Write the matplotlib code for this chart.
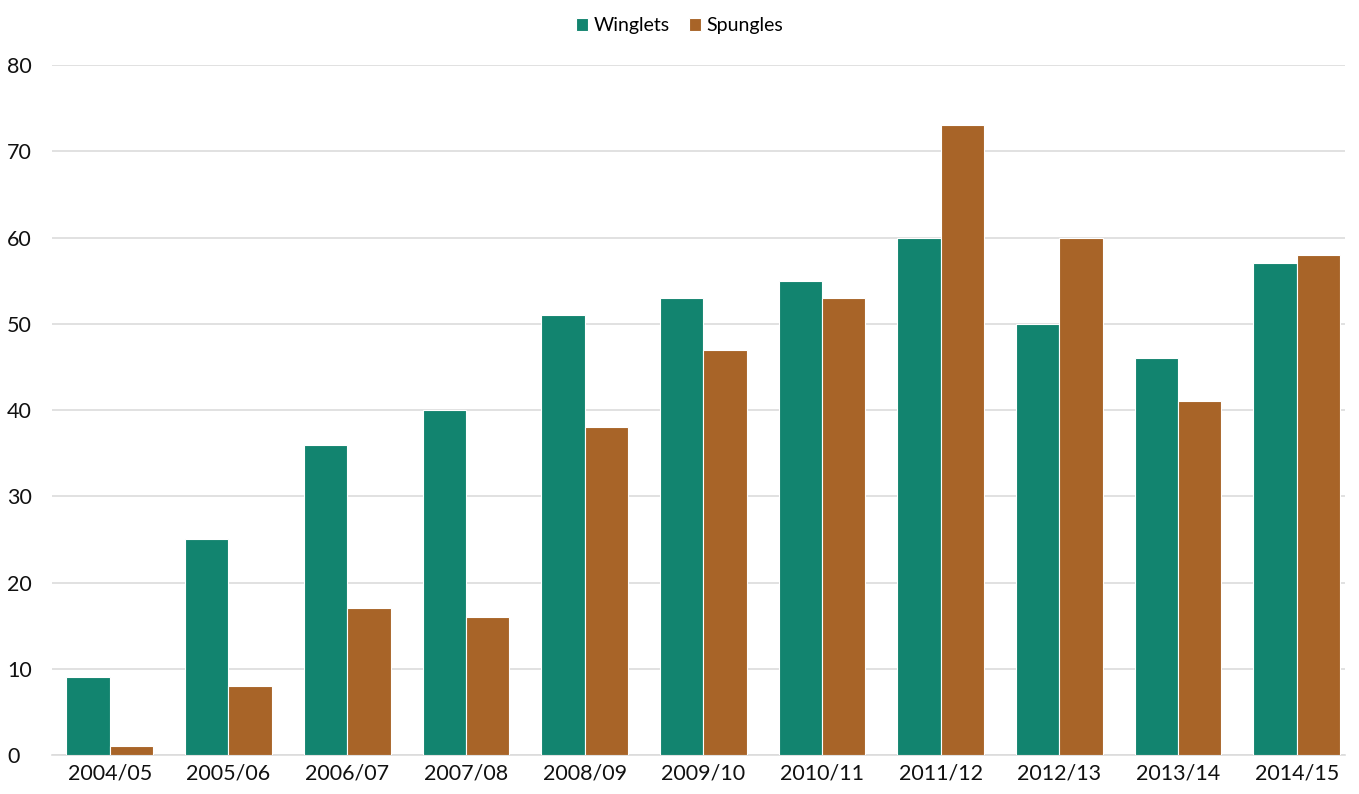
import numpy as np
import matplotlib
matplotlib.use('Agg')
import matplotlib.pyplot as plt

plt.rcParams['font.family'] = ['Lato', 'DejaVu Sans']

seasons = ['2004/05', '2005/06', '2006/07', '2007/08', '2008/09', '2009/10',
           '2010/11', '2011/12', '2012/13', '2013/14', '2014/15']
winglets = [9, 25, 36, 40, 51, 53, 55, 60, 50, 46, 57]
spungles = [1, 8, 17, 16, 38, 47, 53, 73, 60, 41, 58]

teal = '#12846f'
brown = '#a86428'

fig = plt.figure(figsize=(13.59, 7.94), dpi=100)
ax = fig.add_axes([0.038, 0.049, 0.952, 0.869])

x = np.arange(len(seasons))
w = 0.365
ax.bar(x - w / 2, winglets, w, color=teal, edgecolor='white', linewidth=0.8, label='Winglets', zorder=3)
ax.bar(x + w / 2, spungles, w, color=brown, edgecolor='white', linewidth=0.8, label='Spungles', zorder=3)

ax.set_ylim(0, 80)
ax.set_xlim(-0.49, 10.41)
ax.set_yticks(range(0, 81, 10))
ax.set_xticks(x)
ax.set_xticklabels(seasons)
ax.grid(axis='y', color='#dcdcdc', linewidth=1.2, zorder=0)
for s in ['top', 'right', 'left']:
    ax.spines[s].set_visible(False)
ax.spines['bottom'].set_color('#dcdcdc')
ax.spines['bottom'].set_linewidth(1.2)
ax.tick_params(axis='both', length=0, labelsize=15.5, colors='#111111')
ax.tick_params(axis='y', pad=32)
ax.tick_params(axis='x', pad=6)
for lab in ax.get_yticklabels():
    lab.set_horizontalalignment('left')

fig.legend(loc='upper center', bbox_to_anchor=(0.5, 1.0), ncol=2, frameon=False,
           fontsize=14, handlelength=0.6, handleheight=0.6, handletextpad=0.3,
           columnspacing=1.0)

fig.savefig('out.png', dpi=100)
